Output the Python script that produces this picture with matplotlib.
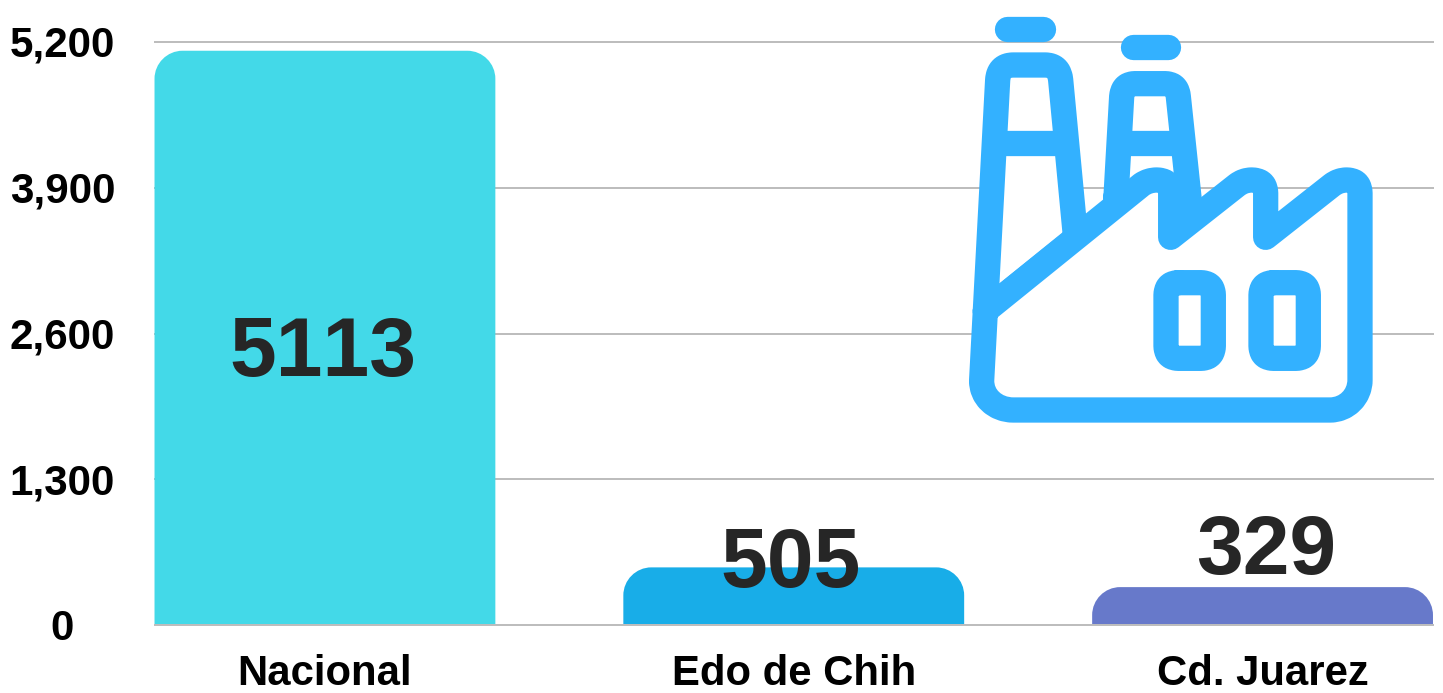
import matplotlib
matplotlib.use('Agg')
import matplotlib.pyplot as plt
from matplotlib.path import Path
from matplotlib.patches import PathPatch
from matplotlib.transforms import ScaledTranslation

plt.rcParams['font.family'] = ['Liberation Sans', 'DejaVu Sans']
plt.rcParams['font.weight'] = 'bold'
plt.rcParams['text.kerning_factor'] = 20  # reference text has no kerning

# data
categories = ['Nacional', 'Edo de Chih', 'Cd. Juarez']
values = [5113, 505, 329]
bar_colors = ['#43D9E8', '#18ADE8', '#6779CA']
y_ticks = [0, 1300, 2600, 3900, 5200]
y_labels = ['0', '1,300', '2,600', '3,900', '5,200']
# label offset from the top of each bar, pixels
label_dx = [-2.5, -3.5, 4]
label_dy = [-293.5, 11.5, 44.5]

W, H = 1443, 693
ICON = '#33B1FF'
GRID = '#BDBDBD'

fig = plt.figure(figsize=(W / 100, H / 100), dpi=100)
y_bot, y_top = 625, 42
ax = fig.add_axes([154 / W, 1 - y_bot / H, (1433.5 - 154) / W, (y_bot - y_top) / H])

bar_w = 0.727
px_per_x = 469.0
px_per_y = (y_bot - y_top) / 5200
ax.set_xlim(-171 / px_per_x, 2 + 171 / px_per_x)
ax.set_ylim(0, 5200)

# bars sit one pixel above the zero line
bar_lift = ScaledTranslation(0, 1 / 100, fig.dpi_scale_trans)


def rounded_top(x, w, h, r=28):
    # bar with only the top corners rounded, radius in pixels
    rx = r / px_per_x
    ry = r / px_per_y
    k = 0.45
    l, rt = x - w / 2, x + w / 2
    verts = [(l, 0), (l, h - ry), (l, h - ry * k), (l + rx * k, h), (l + rx, h), (rt - rx, h),
             (rt - rx * k, h), (rt, h - ry * k), (rt, h - ry), (rt, 0), (l, 0)]
    codes = [Path.MOVETO, Path.LINETO, Path.CURVE4, Path.CURVE4, Path.CURVE4, Path.LINETO,
             Path.CURVE4, Path.CURVE4, Path.CURVE4, Path.LINETO, Path.CLOSEPOLY]
    return Path(verts, codes)


for i, v in enumerate(values):
    ax.add_patch(PathPatch(rounded_top(i, bar_w, v), fc=bar_colors[i], ec='none', zorder=3,
                           transform=ax.transData + bar_lift))
    ax.annotate(str(v), (i, v), xytext=(label_dx[i] * 0.72, label_dy[i] * 0.72),
                textcoords='offset points', ha='center', va='center_baseline',
                fontsize=60.5, fontweight='bold', color='#262626', zorder=6)

ax.set_yticks(y_ticks)
ax.set_yticklabels(y_labels, ha='center', va='baseline', fontsize=30.3, fontweight='bold', color='black')
ax.tick_params(axis='y', length=0, pad=66)
# digits centred on the gridline, commas hang below
shift = ScaledTranslation(0, -14.8 / 100, fig.dpi_scale_trans)
for lab in ax.get_yticklabels():
    lab.set_transform(lab.get_transform() + shift)
ax.set_xticks(range(len(categories)))
ax.set_xticklabels(categories, fontsize=30.2, fontweight='bold', color='black')
ax.tick_params(axis='x', length=0, pad=21)
ax.grid(axis='y', color=GRID, lw=1.44, zorder=1)
ax.set_axisbelow(True)
for g in ax.get_ygridlines():
    g.set_clip_on(False)
    g.set_solid_capstyle('butt')
for s in ax.spines.values():
    s.set_visible(False)

# factory icon, overlay in image pixels
ov = fig.add_axes([0, 0, 1, 1], zorder=5)
ov.set_xlim(0, W)
ov.set_ylim(H, 0)
ov.axis('off')
ov.patch.set_alpha(0)


def P(x, y):
    return (950 + x / 3, y / 3)


def stroke(pts, codes=None, fill=None):
    path = Path([P(*p) for p in pts], codes)
    ov.add_patch(PathPatch(path, fc=fill if fill else 'none', ec=ICON, lw=18.2,
                           joinstyle='round', capstyle='round'))


M, L, C, B = Path.MOVETO, Path.LINETO, Path.CURVE3, Path.CURVE4

# chimneys
stroke([(377, 716), (332, 240), (328, 195), (285, 195), (190, 195), (146, 195), (143, 240), (106, 933), (377, 716)],
       [M, L, C, C, L, C, C, L, L], fill='white')
stroke([(498, 590), (515, 290), (518, 251), (555, 251), (645, 251), (682, 251), (685, 290), (722, 640), (498, 640), (498, 590)],
       [M, L, C, C, L, C, C, L, L, L], fill='white')

# main building
stroke([(106, 933), (575, 554), (595, 540), (620, 540), (662, 540), (662, 580), (662, 712),
        (860, 556), (880, 540), (905, 540), (947, 540), (947, 580), (947, 712),
        (1145, 556), (1165, 540), (1190, 540), (1230, 540), (1230, 580), (1230, 1140),
        (1230, 1190), (1190, 1230), (1140, 1230),
        (190, 1230), (135, 1230), (93, 1190), (95, 1140), (106, 933)],
       [M, L, C, C, C, C, L,
        L, C, C, C, C, L,
        L, C, C, C, C, L,
        B, B, B,
        L, B, B, B, L], fill='white')

# crossbars
stroke([(135, 428), (340, 428)], [M, L])
stroke([(510, 428), (690, 428)], [M, L])
# smoke caps
stroke([(172, 87), (278, 87)], [M, L])
stroke([(548, 141), (654, 141)], [M, L])
# windows
r = 38
for dx in (0, 285):
    x0, x1, y0, y1 = 648 + dx, 790 + dx, 848, 1075
    stroke([(x0 + r, y0), (x1 - r, y0), (x1, y0), (x1, y0 + r), (x1, y1 - r), (x1, y1), (x1 - r, y1),
            (x0 + r, y1), (x0, y1), (x0, y1 - r), (x0, y0 + r), (x0, y0), (x0 + r, y0)],
           [M, L, C, C, L, C, C, L, C, C, L, C, C], fill='white')

fig.savefig('out.png', dpi=100)
